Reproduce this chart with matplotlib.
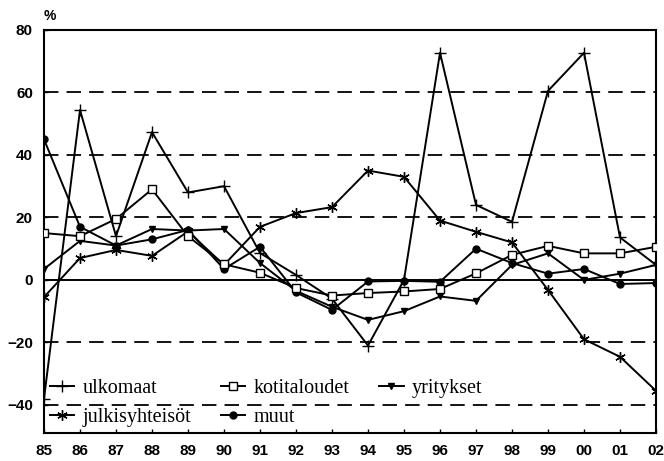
import matplotlib
matplotlib.use("Agg")
import matplotlib.pyplot as plt
import numpy as np

years = ["85", "86", "87", "88", "89", "90", "91", "92", "93", "94", "95",
         "96", "97", "98", "99", "00", "01", "02"]

ulkomaat = [-38, 54.4, 14, 47.3, 28, 30, 8.6, 1.6, -6, -21, 0,
            72.7, 24, 18.6, 60.5, 72.7, 13.6, 4.8]
kotitaloudet = [15, 14, 19.5, 29, 14, 5, 2.3, -2.6, -5, -4.2, -3.7,
                -2.9, 2.1, 8, 10.9, 8.5, 8.5, 10.6]
yritykset = [3.5, 12.5, 11, 16.3, 15.8, 16.3, 5.4, -3.5, -8.6, -12.8, -10,
             -5.3, -6.7, 4.8, 8.5, 0, 2, 4.8]
julkisyhteisot = [-5.5, 7, 9.6, 7.7, 15.5, 4.8, 17, 21.4, 23.3, 35, 33,
                  19, 15.4, 12, -3.2, -19, -24.6, -35.5]
muut = [45, 17, 11, 13, 16, 3.5, 10.6, -4, -9.6, -0.5, -0.3,
        -0.6, 10, 5.4, 2, 3.5, -1.3, -1]

plt.rcParams['font.family'] = ['Liberation Sans', 'DejaVu Sans']

fig = plt.figure(figsize=(6.64, 4.61), dpi=100)
ax = fig.add_axes([44/664, 1-433/461, (656-44)/664, (433-30)/461])

x = np.arange(len(years))
lw = 1.4
ax.axhline(0, color='black', lw=1.4, zorder=1)
for yv in [-40, -20, 20, 40, 60]:
    ax.axhline(yv, color='black', lw=1.3, ls=(0, (8, 4.5)), zorder=1)

ax.plot(x, ulkomaat, color='black', lw=lw, marker='+', ms=8, mew=1.0, label='ulkomaat', zorder=3)
ax.plot(x, julkisyhteisot, color='black', lw=lw, marker=(6, 2, 0), ms=7.5, mew=1.0, label='julkisyhteisöt', zorder=3)
ax.plot(x, kotitaloudet, color='black', lw=lw, marker='s', ms=6, mew=1.0, mfc='white', label='kotitaloudet', zorder=4)
ax.plot(x, muut, color='black', lw=lw, marker='o', ms=5, label='muut', zorder=3)
ax.plot(x, yritykset, color='black', lw=lw, marker='v', ms=5, label='yritykset', zorder=3)

ax.set_xlim(0, len(years) - 1)
ax.set_ylim(-49, 80)
ax.set_xticks(x)
ax.set_xticklabels(years)
ax.set_yticks([-40, -20, 0, 20, 40, 60, 80])
ax.tick_params(direction='in', length=3, labelsize=11, pad=8, width=1)
for lab in ax.get_xticklabels() + ax.get_yticklabels():
    lab.set_fontweight('bold')
for s in ax.spines.values():
    s.set_linewidth(1.5)

fig.text(50/664, 1-16/461, '%', fontsize=10, fontweight='bold', ha='center', va='center')

leg = ax.legend(loc='lower left', ncol=3, frameon=False,
                prop={'family': ['Liberation Serif'], 'size': 14.5},
                handlelength=1.2, handletextpad=0.4, columnspacing=1.5,
                labelspacing=0.5, borderpad=0.1, borderaxespad=0.2,
                bbox_to_anchor=(0.0, 0.0))

fig.savefig('out.png', dpi=100)
